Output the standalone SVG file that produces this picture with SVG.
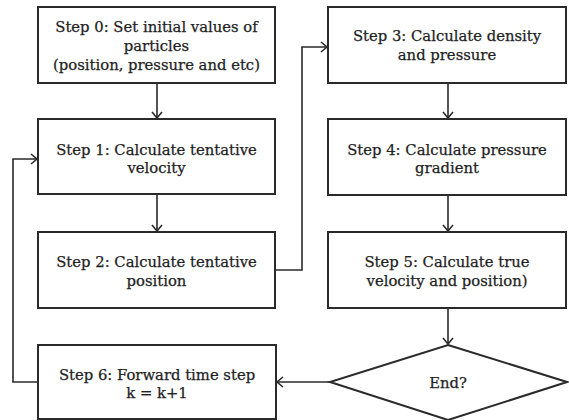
<svg xmlns="http://www.w3.org/2000/svg" width="569" height="420" viewBox="0 0 569 420">
<defs>
<marker id="arr" markerWidth="12" markerHeight="12" refX="10" refY="6" orient="auto" markerUnits="userSpaceOnUse">
<path d="M4,1 L10,6 L4,11" fill="none" stroke="#2a2a2a" stroke-width="1.6"/>
</marker>
</defs>
<style>
.box{fill:#fff;stroke:#2a2a2a;stroke-width:2}
.t{font-family:"DejaVu Serif","Liberation Serif",serif;font-size:14.8px;fill:#222;stroke:#222;stroke-width:0.25;text-anchor:middle}
.c{fill:none;stroke:#2a2a2a;stroke-width:1.6}
</style>
<rect width="569" height="420" fill="#fff"/>
<g id="connectors">
<path class="c" d="M157,83 V118" marker-end="url(#arr)"/>
<path class="c" d="M157,194 V231" marker-end="url(#arr)"/>
<path class="c" d="M275,270 H302 V47 H327" marker-end="url(#arr)"/>
<path class="c" d="M448,83 V118" marker-end="url(#arr)"/>
<path class="c" d="M448,195 V231" marker-end="url(#arr)"/>
<path class="c" d="M448,308 V344" marker-end="url(#arr)"/>
<path class="c" d="M330,382 H277" marker-end="url(#arr)"/>
<path class="c" d="M38,382 H13 V159 H37" marker-end="url(#arr)"/>
</g>
<g id="step0">
<rect class="box" x="38" y="7" width="237" height="76"/>
<text class="t" x="156.5" y="32">Step 0: Set initial values of</text>
<text class="t" x="156.5" y="51">particles</text>
<text class="t" x="156.5" y="70">(position, pressure and etc)</text>
</g>
<g id="step1">
<rect class="box" x="38" y="119" width="237" height="75"/>
<text class="t" x="156.5" y="155">Step 1: Calculate tentative</text>
<text class="t" x="156.5" y="173">velocity</text>
</g>
<g id="step2">
<rect class="box" x="38" y="232" width="237" height="76"/>
<text class="t" x="156.5" y="267">Step 2: Calculate tentative</text>
<text class="t" x="156.5" y="286">position</text>
</g>
<g id="step6">
<rect class="box" x="38" y="345" width="238" height="74"/>
<text class="t" x="157" y="380">Step 6: Forward time step</text>
<text class="t" x="157" y="398">k = k+1</text>
</g>
<g id="step3">
<rect class="box" x="328" y="7" width="238" height="76"/>
<text class="t" x="447" y="41">Step 3: Calculate density</text>
<text class="t" x="447" y="60">and pressure</text>
</g>
<g id="step4">
<rect class="box" x="328" y="119" width="238" height="76"/>
<text class="t" x="447" y="155">Step 4: Calculate pressure</text>
<text class="t" x="447" y="173">gradient</text>
</g>
<g id="step5">
<rect class="box" x="328" y="232" width="238" height="76"/>
<text class="t" x="447" y="267">Step 5: Calculate true</text>
<text class="t" x="447" y="286">velocity and position)</text>
</g>
<g id="end">
<polygon class="box" points="448,345 567,382 448,420 330,382"/>
<text class="t" x="448" y="388">End?</text>
</g>
</svg>
